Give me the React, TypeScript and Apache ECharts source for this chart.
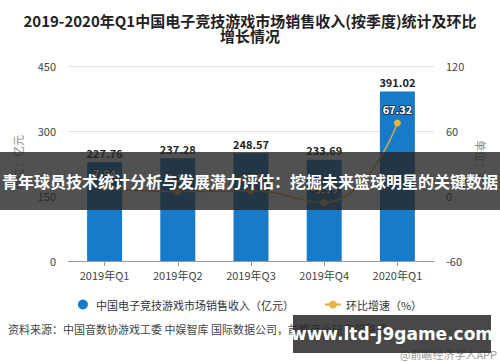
import React, { useEffect, useRef } from "react";
import * as echarts from "echarts";

const categories = ["2019年Q1", "2019年Q2", "2019年Q3", "2019年Q4", "2020年Q1"];
const revenue = [227.76, 237.28, 248.57, 233.69, 391.02];
const growth = [7.94, 4.18, 4.76, -5.99, 67.32];
const leftTicks = { min: 0, max: 450, interval: 150 };
const rightTicks = { min: -60, max: 120, interval: 60 };
const titleText = "2019-2020年Q1中国电子竞技游戏市场销售收入(按季度)统计及环比\n增长情况";
const seriesNames = ["中国电子竞技游戏市场销售收入（亿元）", "环比增速（%）"];
const overlayText = "青年球员技术统计分析与发展潜力评估：挖掘未来篮球明星的关键数据";
const sourceText = "资料来源：中国音数协游戏工委 中娱智库 国际数据公司，前瞻产业研究院整理";
const siteText = "www.ltd-j9game.com";
const brandText = "@前瞻经济学人APP";

const FONT = "'Noto Sans CJK SC', 'Noto Sans', sans-serif";

export default function App() {
  const ref = useRef<HTMLDivElement>(null);
  useEffect(() => {
    if (!ref.current) return;
    const chart = echarts.init(ref.current, undefined, { renderer: "svg" });
    chart.setOption({
      animation: false,
      backgroundColor: "#ffffff",
      textStyle: { fontFamily: FONT },
      title: {
        text: titleText,
        left: "center",
        top: 8,
        textStyle: { fontSize: 15, fontWeight: "bold", color: "#222", lineHeight: 15, fontFamily: FONT },
      },
      grid: { left: 68, right: 66, top: 66, bottom: 101 },
      legend: {
        bottom: 47,
        left: "center",
        itemGap: 30,
        itemWidth: 16,
        itemHeight: 10,
        textStyle: { fontSize: 11, color: "#333" },
        data: [
          { name: seriesNames[0], icon: "circle" },
          { name: seriesNames[1] },
        ],
      },
      xAxis: {
        type: "category",
        data: categories,
        axisLine: { lineStyle: { color: "#999" } },
        axisTick: { show: true, alignWithLabel: true, lineStyle: { color: "#999" } },
        axisLabel: { color: "#444", fontSize: 11, margin: 8 },
      },
      yAxis: [
        {
          type: "value",
          min: leftTicks.min,
          max: leftTicks.max,
          interval: leftTicks.interval,
          axisLine: { show: false },
          axisTick: { show: false },
          axisLabel: { color: "#444", fontSize: 11, margin: 12 },
          splitLine: { lineStyle: { color: "#e3e3e3" } },
        },
        {
          type: "value",
          min: rightTicks.min,
          max: rightTicks.max,
          interval: rightTicks.interval,
          axisLine: { show: false },
          axisTick: { show: false },
          axisLabel: { color: "#444", fontSize: 11, margin: 12 },
          splitLine: { show: false },
        },
      ],
      series: [
        {
          name: seriesNames[0],
          type: "bar",
          data: revenue,
          barWidth: 35,
          itemStyle: { color: "#187bc9" },
          label: {
            show: true,
            position: "top",
            color: "#222",
            fontSize: 11,
            fontWeight: "bold",
            distance: 4,
          },
        },
        {
          name: seriesNames[1],
          type: "line",
          yAxisIndex: 1,
          data: growth,
          smooth: true,
          symbol: "circle",
          symbolSize: 7,
          lineStyle: { color: "#d9a93e", width: 1.5 },
          itemStyle: { color: "#e8b442" },
          label: {
            show: true,
            position: "top",
            color: "#ffffff",
            fontSize: 11,
            fontWeight: "bold",
            textBorderColor: "#1a3a5a",
            textBorderWidth: 2,
          },
          z: 3,
        },
      ],
      graphic: [
        {
          type: "text",
          left: 12,
          top: 135,
          rotation: Math.PI / 2,
          style: { text: "单位：亿元", fill: "#888", fontSize: 11, fontFamily: FONT },
        },
        {
          type: "text",
          left: 476,
          top: 140,
          rotation: -Math.PI / 2,
          style: { text: "单位：%", fill: "#888", fontSize: 11, fontFamily: FONT },
        },
        {
          type: "text",
          left: 8,
          top: 323,
          style: { text: sourceText, fill: "#444", fontSize: 11, fontFamily: FONT },
        },
        {
          type: "text",
          right: 3,
          top: 348,
          style: { text: brandText, fill: "#999", fontSize: 11, fontFamily: FONT },
        },
        {
          type: "rect",
          shape: { x: 0, y: 152, width: 500, height: 58 },
          style: { fill: "rgba(38,38,38,0.8)" },
          z: 100,
        },
        {
          type: "text",
          x: 250,
          y: 181,
          z: 101,
          style: {
            text: overlayText,
            fill: "#ffffff",
            fontSize: 16,
            fontWeight: "bold",
            fontFamily: FONT,
            align: "center",
            verticalAlign: "middle",
          },
        },
        {
          type: "rect",
          shape: { x: 293, y: 315, width: 198, height: 38 },
          style: { fill: "rgba(40,40,40,0.85)" },
          z: 100,
        },
        {
          type: "text",
          x: 392,
          y: 334,
          z: 101,
          style: {
            text: siteText,
            fill: "#ffffff",
            fontSize: 17,
            fontWeight: "bold",
            fontFamily: "'DejaVu Sans', sans-serif",
            align: "center",
            verticalAlign: "middle",
          },
        },
      ],
    });
    return () => chart.dispose();
  }, []);
  return <div ref={ref} style={{ width: 500, height: 362, position: "absolute", left: 0, top: 0 }} />;
}
